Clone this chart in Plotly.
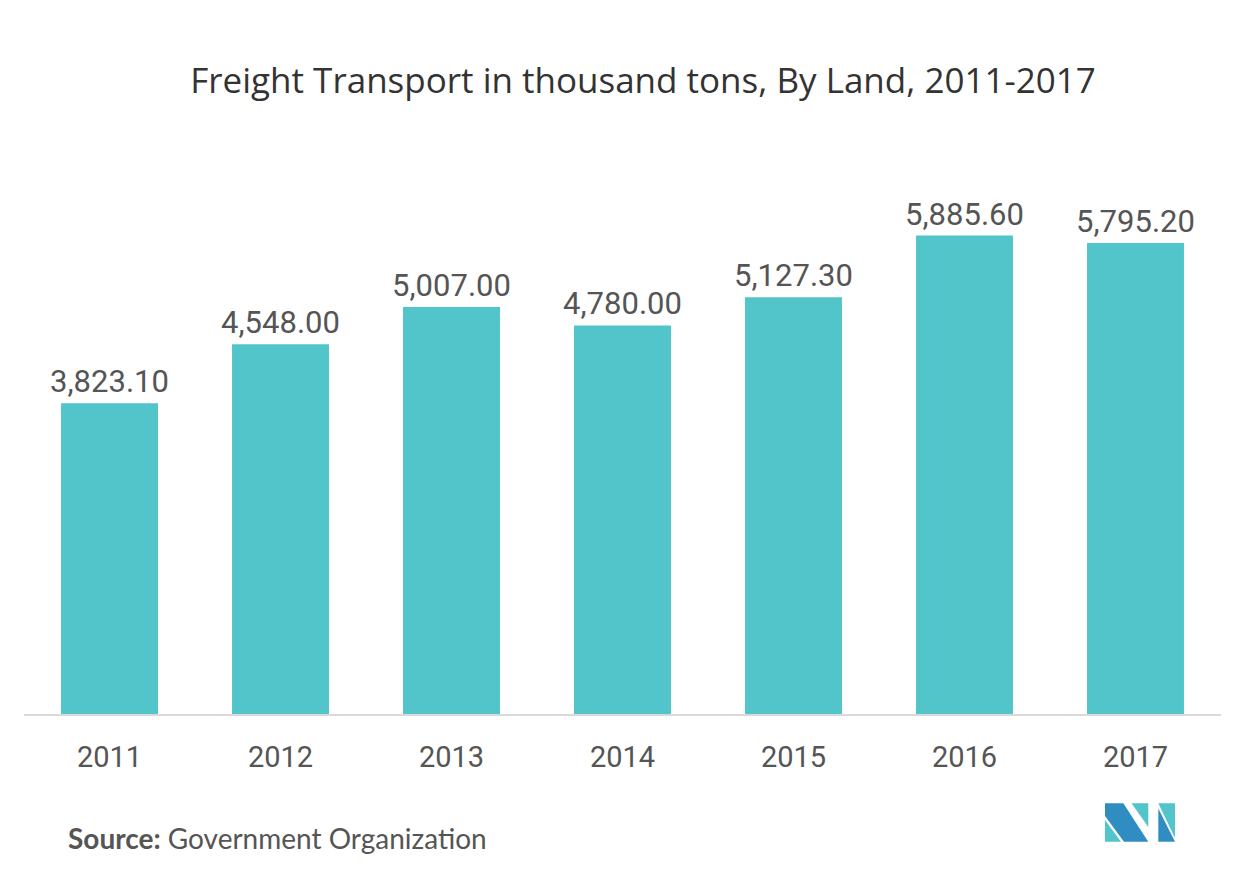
import plotly.graph_objects as go

years = ["2011", "2012", "2013", "2014", "2015", "2016", "2017"]
values = [3823.10, 4548.00, 5007.00, 4780.00, 5127.30, 5885.60, 5795.20]
labels = ["3,823.10", "4,548.00", "5,007.00", "4,780.00", "5,127.30", "5,885.60", "5,795.20"]

W, H = 1244, 873
OFF = 8  # page body margin
L, R, T, B = 24 - OFF, 23 + OFF, 145 - OFF, 159 + OFF
PW, PH = W - L - R, H - T - B

def px(x):
    return (x - OFF - L) / PW

def py(y):
    return (H - B - (y - OFF)) / PH

fig = go.Figure()
fig.add_trace(go.Bar(
    x=years, y=values, text=labels, textposition="outside",
    constraintext="none",
    marker=dict(color="#52C5CA", line=dict(width=0)),
    textfont=dict(family="Roboto", size=31, color="#555555"),
    cliponaxis=False, hoverinfo="skip",
))

shapes = []
def poly(pts, color):
    path = "M " + " L ".join(f"{px(a):.5f},{py(b):.5f}" for a, b in pts) + " Z"
    shapes.append(dict(type="path", xref="paper", yref="paper", path=path,
                       fillcolor=color, line=dict(width=0), layer="above"))

dark = "#2F8DC2"
teal = "#52C5CA"
poly([(1105, 803.3), (1123.3, 803.3), (1148.3, 841.7), (1124, 841.7), (1105, 816)], dark)
poly([(1105, 820), (1105, 841.7), (1121, 841.7)], teal)
poly([(1131.5, 803.3), (1148.3, 803.3), (1148.3, 827)], teal)
poly([(1158.3, 803.3), (1175, 803.3), (1175, 838)], teal)
poly([(1158.3, 808.5), (1175, 841.7), (1158.3, 841.7)], dark)

fig.update_layout(
    width=W, height=H,
    margin=dict(l=L, r=R, t=T, b=B),
    paper_bgcolor="white", plot_bgcolor="white",
    bargap=0.433,
    showlegend=False,
    title=dict(text="Freight Transport in thousand tons, By Land, 2011-2017",
               x=px(635), xanchor="center", y=1 - (81 - OFF) / H, yanchor="middle",
               font=dict(family="Open Sans", size=35, color="#333333")),
    xaxis=dict(showline=True, linecolor="#D9D9D9", linewidth=2,
               ticks="outside", ticklen=16, tickcolor="rgba(0,0,0,0)",
               showgrid=False,
               tickfont=dict(family="Roboto", size=29, color="#555555")),
    yaxis=dict(range=[0, 7000], visible=False, showgrid=False, zeroline=False),
    shapes=shapes,
    annotations=[dict(
        text="<b>Source:</b> Government Organization",
        xref="paper", yref="paper", x=px(66), y=py(838),
        xanchor="left", yanchor="middle", showarrow=False,
        font=dict(family="Lato", size=28, color="#555555"))],
)

fig.write_html("out.html")
